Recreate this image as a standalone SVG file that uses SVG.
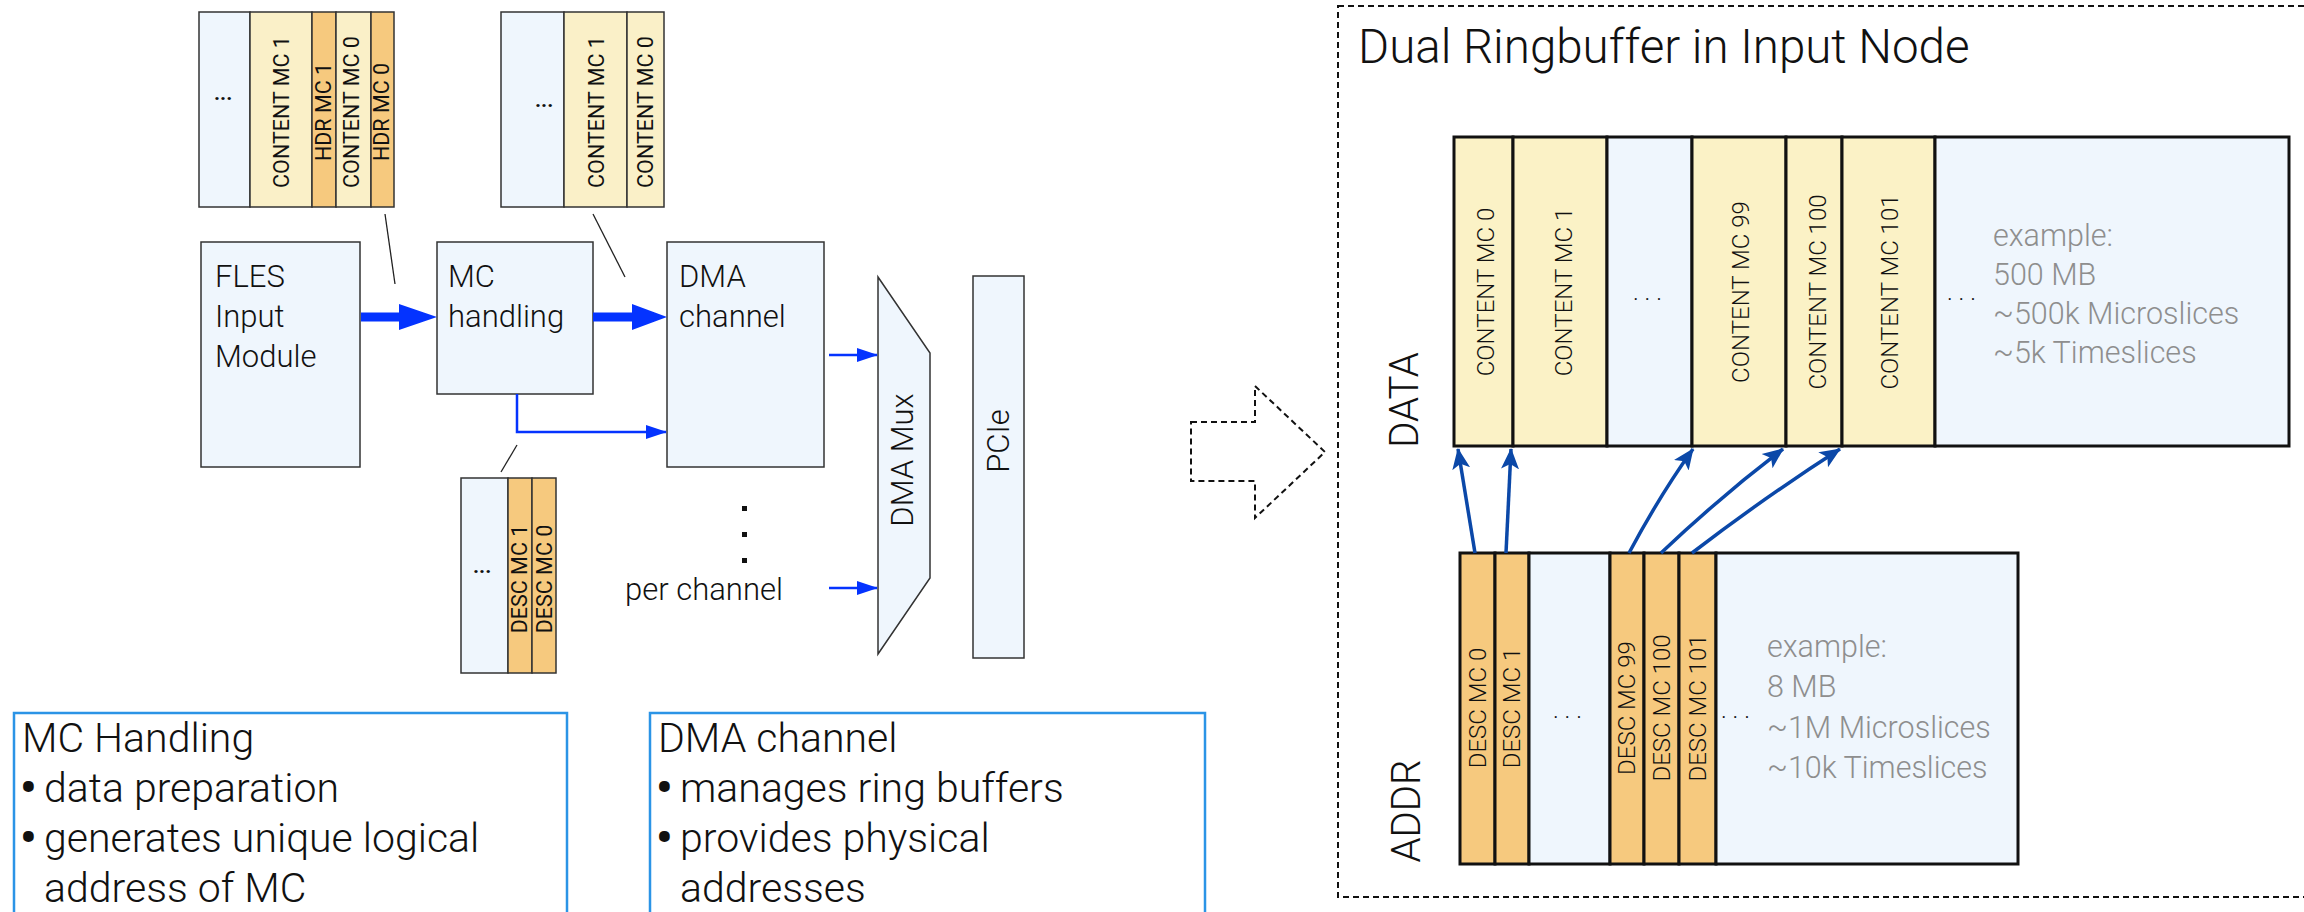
<svg xmlns="http://www.w3.org/2000/svg" width="2304" height="912" viewBox="0 0 2304 912">
  <style>
    text { font-family: Roboto, "Liberation Sans", Arial, sans-serif; font-weight: 300; fill: #111; }
    .blk { fill: #EFF6FD; stroke: #333; stroke-width: 1.5; }
    .yel { fill: #FAF0C8; stroke: #333; stroke-width: 1.5; }
    .org { fill: #F6C97E; stroke: #333; stroke-width: 1.5; }
    .rblk { fill: #EFF6FD; stroke: #111; stroke-width: 3; }
    .ryel { fill: #FBF2C6; stroke: #111; stroke-width: 3; }
    .rorg { fill: #F6C97E; stroke: #111; stroke-width: 3; }
    .node { font-size: 31px; }
    .v21 { font-size: 21.5px; font-weight: 400; text-anchor: middle; }
    .v24 { font-size: 24px; text-anchor: middle; }
    .dots { font-size: 21px; font-weight: 700; }
    .note { font-size: 30.5px; fill: #8E8E8E; }
    .info { fill: #fff; stroke: #2B94E6; stroke-width: 2.5; }
    .infot { font-size: 41px; }
    .bul { font-size: 46px; font-weight: 700; }
    .lead { stroke: #222; stroke-width: 1.3; fill: none; }
    .wire { stroke: #0433FF; stroke-width: 2.5; fill: none; }
    .ptr { stroke: #0B48A8; stroke-width: 3.5; fill: none; }
    .dash { fill: none; stroke: #111; stroke-width: 2; stroke-dasharray: 6 4; }
  </style>
  <defs>
    <marker id="tri" markerUnits="userSpaceOnUse" markerWidth="22" markerHeight="16" refX="20" refY="8" orient="auto">
      <path d="M0,1 L21,8 L0,15 z" fill="#0433FF"/>
    </marker>
    <marker id="barb" markerUnits="userSpaceOnUse" markerWidth="22" markerHeight="20" refX="20" refY="10" orient="auto">
      <path d="M0,1 L21,10 L0,19 L5,10 z" fill="#0B48A8"/>
    </marker>
  </defs>

  <!-- stream layout before the MC handling block -->
  <g id="buf-input">
    <rect class="blk" x="199" y="12" width="51" height="195"/>
    <rect class="yel" x="250" y="12" width="62" height="195"/>
    <rect class="org" x="312" y="12" width="24" height="195"/>
    <rect class="yel" x="336" y="12" width="35" height="195"/>
    <rect class="org" x="371" y="12" width="23" height="195"/>
    <text class="dots" x="214" y="100">...</text>
    <text class="v21" transform="translate(289,112) rotate(-90)">CONTENT MC 1</text>
    <text class="v21" transform="translate(331,112) rotate(-90)">HDR MC 1</text>
    <text class="v21" transform="translate(359,112) rotate(-90)">CONTENT MC 0</text>
    <text class="v21" transform="translate(389,112) rotate(-90)">HDR MC 0</text>
  </g>

  <!-- content stream after MC handling -->
  <g id="buf-content">
    <rect class="blk" x="501" y="12" width="63" height="195"/>
    <rect class="yel" x="564" y="12" width="63" height="195"/>
    <rect class="yel" x="627" y="12" width="37" height="195"/>
    <text class="dots" x="535" y="107">...</text>
    <text class="v21" transform="translate(604,112) rotate(-90)">CONTENT MC 1</text>
    <text class="v21" transform="translate(653,112) rotate(-90)">CONTENT MC 0</text>
  </g>

  <!-- descriptor stream after MC handling -->
  <g id="buf-desc">
    <rect class="blk" x="461" y="478" width="47" height="195"/>
    <rect class="org" x="508" y="478" width="24" height="195"/>
    <rect class="org" x="532" y="478" width="24" height="195"/>
    <text class="dots" x="473" y="573">...</text>
    <text class="v21" transform="translate(527,579) rotate(-90)">DESC MC 1</text>
    <text class="v21" transform="translate(552,579) rotate(-90)">DESC MC 0</text>
  </g>

  <g id="fles-input">
    <rect class="blk" x="201" y="242" width="159" height="225"/>
    <text class="node" x="215" y="287">FLES</text>
    <text class="node" x="215" y="327">Input</text>
    <text class="node" x="215" y="367">Module</text>
  </g>

  <g id="mc-handling">
    <rect class="blk" x="437" y="242" width="156" height="152"/>
    <text class="node" x="448" y="287">MC</text>
    <text class="node" x="448" y="327">handling</text>
  </g>

  <g id="dma-channel">
    <rect class="blk" x="667" y="242" width="157" height="225"/>
    <text class="node" x="679" y="287">DMA</text>
    <text class="node" x="679" y="327">channel</text>
  </g>

  <g id="dma-mux">
    <path class="blk" d="M878,277 L930,353 L930,578 L878,654 Z"/>
    <text class="node" text-anchor="middle" transform="translate(913,460) rotate(-90)">DMA Mux</text>
  </g>

  <g id="pcie">
    <rect class="blk" x="973" y="276" width="51" height="382"/>
    <text class="node" text-anchor="middle" transform="translate(1009,441) rotate(-90)">PCIe</text>
  </g>

  <g id="per-channel">
    <rect x="742" y="506" width="5" height="5" fill="#111"/>
    <rect x="742" y="532" width="5" height="5" fill="#111"/>
    <rect x="742" y="558" width="5" height="5" fill="#111"/>
    <text class="node" x="625" y="600" font-size="32.5">per channel</text>
  </g>

  <g id="note-mc">
    <rect class="info" x="14" y="713" width="553" height="220"/>
    <text class="infot" x="22" y="752">MC Handling</text>
    <text class="bul" x="20" y="803">•</text>
    <text class="infot" x="44" y="802">data preparation</text>
    <text class="bul" x="20" y="853">•</text>
    <text class="infot" x="44" y="852">generates unique logical</text>
    <text class="infot" x="44" y="902">address of MC</text>
  </g>

  <g id="note-dma">
    <rect class="info" x="650" y="713" width="555" height="220"/>
    <text class="infot" x="658" y="752">DMA channel</text>
    <text class="bul" x="656" y="803">•</text>
    <text class="infot" x="680" y="802">manages ring buffers</text>
    <text class="bul" x="656" y="853">•</text>
    <text class="infot" x="680" y="852">provides physical</text>
    <text class="infot" x="680" y="902">addresses</text>
  </g>

  <!-- outline arrow towards the input node view -->
  <g id="to-node">
    <path class="dash" d="M1191,422 L1255,422 L1255,386 L1325,452 L1255,518 L1255,481 L1191,481 Z"/>
  </g>

  <g id="input-node">
    <rect class="dash" x="1338" y="6" width="980" height="891"/>
    <text x="1358" y="63" font-size="47.5">Dual Ringbuffer in Input Node</text>
    <text font-size="40" text-anchor="middle" transform="translate(1418,400) rotate(-90)">DATA</text>
    <text font-size="40" text-anchor="middle" transform="translate(1420,811) rotate(-90)">ADDR</text>
  </g>

  <g id="data-ring">
    <rect class="ryel" x="1454" y="137" width="59" height="309"/>
    <rect class="ryel" x="1513" y="137" width="94" height="309"/>
    <rect class="rblk" x="1607" y="137" width="85" height="309"/>
    <rect class="ryel" x="1692" y="137" width="94" height="309"/>
    <rect class="ryel" x="1786" y="137" width="56" height="309"/>
    <rect class="ryel" x="1842" y="137" width="93" height="309"/>
    <rect class="rblk" x="1935" y="137" width="354" height="309"/>
    <text class="v24" transform="translate(1494,292) rotate(-90)">CONTENT MC 0</text>
    <text class="v24" transform="translate(1572,292) rotate(-90)">CONTENT MC 1</text>
    <text x="1633" y="300" font-size="24">. . .</text>
    <text class="v24" transform="translate(1749,292) rotate(-90)">CONTENT MC 99</text>
    <text class="v24" transform="translate(1826,292) rotate(-90)">CONTENT MC 100</text>
    <text class="v24" transform="translate(1898,292) rotate(-90)">CONTENT MC 101</text>
    <text x="1947" y="300" font-size="24">. . .</text>
    <text class="note" x="1993" y="246">example:</text>
    <text class="note" x="1993" y="285">500 MB</text>
    <text class="note" x="1993" y="324">~500k Microslices</text>
    <text class="note" x="1993" y="363">~5k Timeslices</text>
  </g>

  <g id="addr-ring">
    <rect class="rorg" x="1460" y="553" width="35" height="311"/>
    <rect class="rorg" x="1495" y="553" width="34" height="311"/>
    <rect class="rblk" x="1529" y="553" width="81" height="311"/>
    <rect class="rorg" x="1610" y="553" width="34" height="311"/>
    <rect class="rorg" x="1644" y="553" width="35" height="311"/>
    <rect class="rorg" x="1679" y="553" width="37" height="311"/>
    <rect class="rblk" x="1716" y="553" width="302" height="311"/>
    <text class="v24" transform="translate(1486,708) rotate(-90)">DESC MC 0</text>
    <text class="v24" transform="translate(1520,708) rotate(-90)">DESC MC 1</text>
    <text x="1553" y="718" font-size="24">. . .</text>
    <text class="v24" transform="translate(1635,708) rotate(-90)">DESC MC 99</text>
    <text class="v24" transform="translate(1670,708) rotate(-90)">DESC MC 100</text>
    <text class="v24" transform="translate(1706,708) rotate(-90)">DESC MC 101</text>
    <text x="1721" y="718" font-size="24">. . .</text>
    <text class="note" x="1767" y="657">example:</text>
    <text class="note" x="1767" y="697">8 MB</text>
    <text class="note" x="1767" y="738">~1M Microslices</text>
    <text class="note" x="1767" y="778">~10k Timeslices</text>
  </g>

  <g id="connectors">
    <line class="lead" x1="385" y1="214" x2="395" y2="284"/>
    <line class="lead" x1="593" y1="214" x2="625" y2="277"/>
    <line class="lead" x1="517" y1="445" x2="501" y2="472"/>
    <path d="M361,312.5 L399,312.5 L399,304 L437,317 L399,330 L399,321.5 L361,321.5 Z" fill="#0433FF"/>
    <path d="M593,312.5 L632,312.5 L632,304 L667,317 L632,330 L632,321.5 L593,321.5 Z" fill="#0433FF"/>
    <path class="wire" d="M517,394 L517,432 L666,432" marker-end="url(#tri)"/>
    <path class="wire" d="M829,355 L877,355" marker-end="url(#tri)"/>
    <path class="wire" d="M829,588 L877,588" marker-end="url(#tri)"/>
    <path class="ptr" d="M1475,553 L1458,449" marker-end="url(#barb)"/>
    <path class="ptr" d="M1506,553 L1511,449" marker-end="url(#barb)"/>
    <path class="ptr" d="M1629,553 Q1660,495 1693,449" marker-end="url(#barb)"/>
    <path class="ptr" d="M1661,553 Q1720,497 1783,449" marker-end="url(#barb)"/>
    <path class="ptr" d="M1692,553 Q1765,497 1840,449" marker-end="url(#barb)"/>
  </g>
</svg>
